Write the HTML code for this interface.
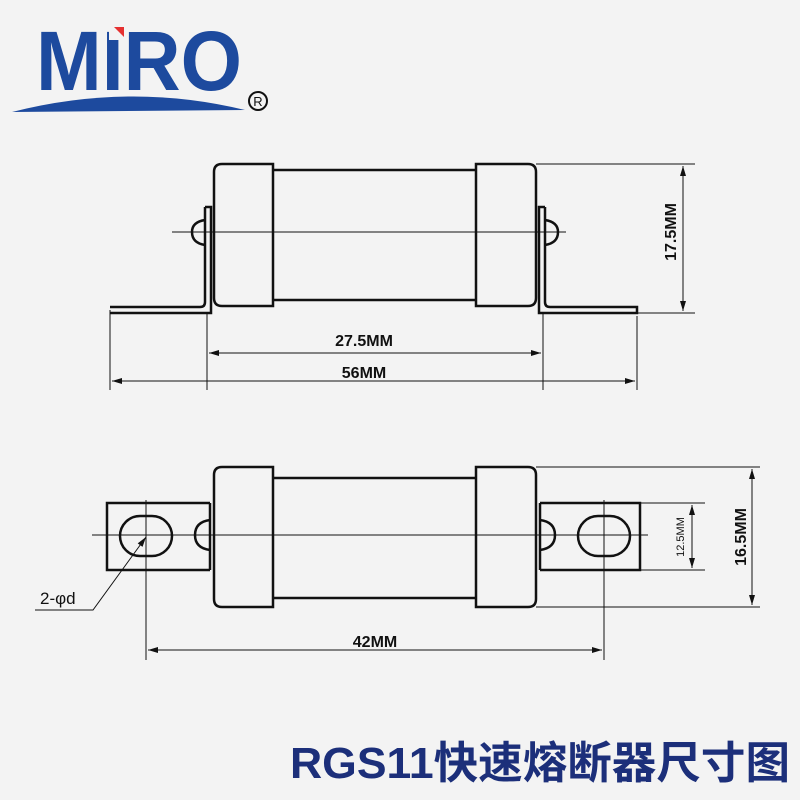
<!DOCTYPE html>
<html><head><meta charset="utf-8"><style>
html,body{margin:0;padding:0;background:#f3f3f3;}
svg{display:block}
</style></head><body>
<svg width="800" height="800" viewBox="0 0 800 800" xmlns="http://www.w3.org/2000/svg" font-family="Liberation Sans, sans-serif">
<rect width="800" height="800" fill="#f3f3f3"/>
<defs>
<marker id="a" viewBox="0 0 10 6" refX="10" refY="3" markerWidth="14" markerHeight="6" markerUnits="userSpaceOnUse" orient="auto-start-reverse"><path d="M0,0 L10,3 L0,6z" fill="#111"/></marker>
</defs>
<!-- logo -->
<text x="36" y="90" font-size="84" font-weight="bold" fill="#1d4a9e" textLength="206" lengthAdjust="spacingAndGlyphs">MIRO</text>
<path d="M109,28 L122,28 L122,40 L109,40z" fill="#f3f3f3"/>
<path d="M114,27 L124,27 L124,37z" fill="#e53030"/>
<path d="M12,112 Q130,82 245,110 Z" fill="#1d4a9e"/>
<circle cx="258" cy="101" r="9" fill="none" stroke="#111" stroke-width="2"/>
<text x="258" y="106" font-size="13" text-anchor="middle" fill="#111">R</text>

<g fill="none" stroke="#111">
<!-- top view -->
<g stroke-width="2.5">
<path d="M222,164 H273 V306 H222 Q214,306 214,298 V172 Q214,164 222,164Z"/>
<path d="M476,164 H528 Q536,164 536,172 V298 Q536,306 528,306 H476Z"/>
<path d="M273,170 H476 M273,300 H476"/>
<path d="M205,207 H211 V313 H110 M205,207 V302 Q205,307 200,307 H110"/>
<path d="M545,207 H539 V313 H637 V307 H550 Q545,307 545,302 V207"/>
<path d="M205,220 Q192,222 192,232 Q192,243 205,245"/>
<path d="M545,220 Q558,222 558,232 Q558,243 545,245"/>
</g>
<g stroke-width="1">
<path d="M172,232 H566"/>
<path d="M536,164 H695 M637,313 H695"/>
<path d="M207,313 V390 M543,313 V390 M110,310 V390 M637,316 V390"/>
<path d="M683,166 V311" marker-start="url(#a)" marker-end="url(#a)"/>
<path d="M209,353 H541" marker-start="url(#a)" marker-end="url(#a)"/>
<path d="M112,381 H635" marker-start="url(#a)" marker-end="url(#a)"/>
</g>
<!-- bottom view -->
<g stroke-width="2.5">
<path d="M222,467 H273 V607 H222 Q214,607 214,599 V475 Q214,467 222,467Z"/>
<path d="M476,467 H528 Q536,467 536,475 V599 Q536,607 528,607 H476Z"/>
<path d="M273,478 H476 M273,598 H476"/>
<path d="M210,503 H107 V570 H210"/>
<path d="M540,503 H640 V570 H540"/>
<path d="M210,503 V570 M540,503 V570"/>
<rect x="120" y="516" width="52" height="40" rx="20"/>
<rect x="578" y="516" width="52" height="40" rx="20"/>
<path d="M210,520 Q195,522 195,535 Q195,548 210,550"/>
<path d="M540,520 Q555,522 555,535 Q555,548 540,550"/>
</g>
<g stroke-width="1">
<path d="M92,535 H648 M146,500 V660 M604,500 V660"/>
<path d="M536,467 H760 M536,607 H760 M640,503 H705 M640,570 H705"/>
<path d="M148,650 H602" marker-start="url(#a)" marker-end="url(#a)"/>
<path d="M692,505 V568" marker-start="url(#a)" marker-end="url(#a)"/>
<path d="M752,469 V605" marker-start="url(#a)" marker-end="url(#a)"/>
<path d="M35,610 H93 L146,537" marker-end="url(#a)"/>
</g>
</g>
<g fill="#111" font-size="16">
<text x="364" y="346" text-anchor="middle" font-weight="bold">27.5MM</text>
<text x="364" y="378" text-anchor="middle" font-weight="bold">56MM</text>
<text x="375" y="647" text-anchor="middle" font-weight="bold">42MM</text>
<text transform="translate(676,232) rotate(-90)" text-anchor="middle" font-weight="bold">17.5MM</text>
<text transform="translate(746,537) rotate(-90)" text-anchor="middle" font-weight="bold">16.5MM</text>
<text transform="translate(684,537) rotate(-90)" text-anchor="middle" font-size="11">12.5MM</text>
<text x="40" y="604" font-size="17">2-φd</text>
</g>
<text x="290" y="778" font-size="44" font-weight="bold" fill="#1c2f7a" textLength="500" lengthAdjust="spacingAndGlyphs" font-family="Liberation Sans, Noto Sans CJK SC, sans-serif">RGS11快速熔断器尺寸图</text>
</svg>
</body></html>
